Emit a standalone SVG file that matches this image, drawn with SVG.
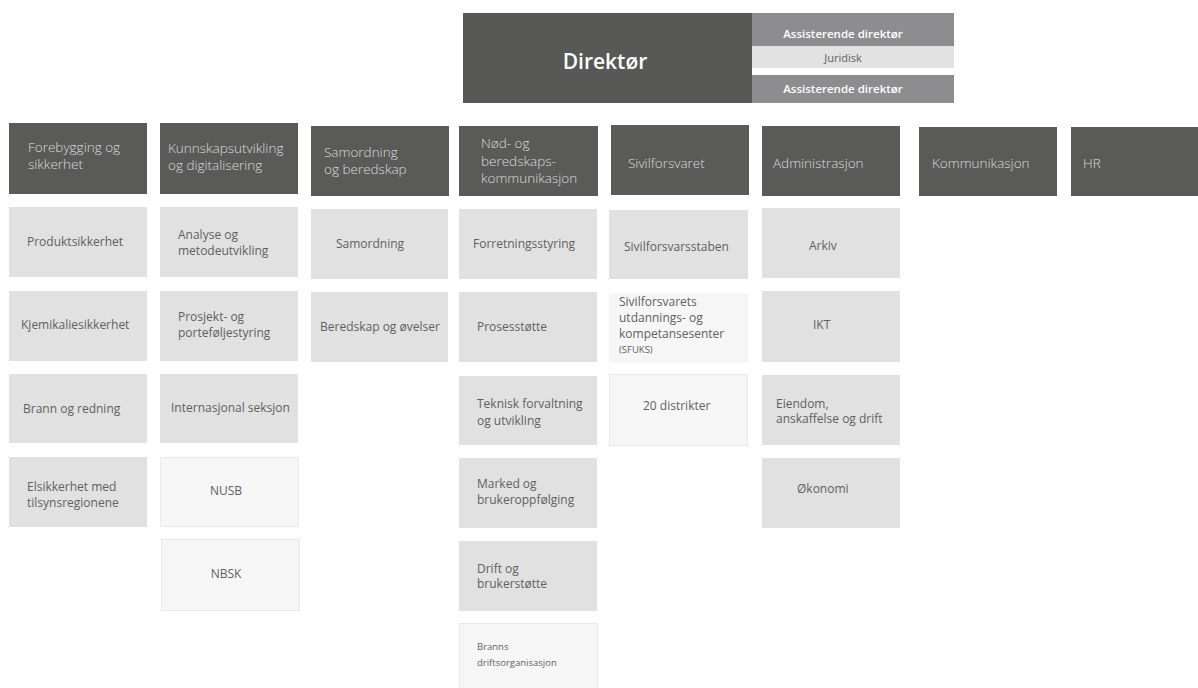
<svg xmlns="http://www.w3.org/2000/svg" width="1198" height="688" viewBox="0 0 1198 688">
<style>
text{font-family:"Open Sans","Liberation Sans",sans-serif}
.hd{fill:#5a5a58}
.ht{fill:#dcdcda;font-size:13.5px;font-weight:300}
.sb{fill:#e2e1e1}
.lb{fill:#f6f6f7;stroke:#e9e9ea;stroke-width:1}
.lbn{fill:#f6f6f7}
.st{fill:#5f5f5f;font-size:12px;font-weight:400}
.sm{fill:#5f5f5f;font-size:9.5px}
.ad{fill:#ffffff;font-size:11.5px;font-weight:600}
</style>
<rect width="1198" height="688" fill="#ffffff"/>
<g id="direktor">
<rect x="463" y="13" width="289" height="90" fill="#585856"/>
<text x="605" y="69" text-anchor="middle" fill="#ffffff" font-size="21" font-weight="600">Direktør</text>
</g>
<g id="assisterende1">
<rect x="752" y="13" width="202" height="33" fill="#8d8d8f"/>
<text class="ad" x="843" y="38" text-anchor="middle">Assisterende direktør</text>
</g>
<g id="juridisk">
<rect x="752" y="46" width="202" height="22" fill="#e3e2e2"/>
<text x="843" y="62" text-anchor="middle" fill="#5f5f5f" font-size="11">Juridisk</text>
</g>
<g id="assisterende2">
<rect x="752" y="75" width="202" height="28" fill="#8d8d8f"/>
<text class="ad" x="843" y="93" text-anchor="middle">Assisterende direktør</text>
</g>

<g id="h-forebygging"><rect class="hd" x="9" y="123" width="138" height="71"/><text class="ht" x="28" y="152">Forebygging og</text><text class="ht" x="28" y="169">sikkerhet</text></g>
<g id="h-kunnskap"><rect class="hd" x="160" y="123" width="138" height="71"/><text class="ht" x="168" y="153">Kunnskapsutvikling</text><text class="ht" x="168" y="170">og digitalisering</text></g>
<g id="h-samordning"><rect class="hd" x="311" y="126" width="138" height="70"/><text class="ht" x="324" y="157">Samordning</text><text class="ht" x="324" y="174">og beredskap</text></g>
<g id="h-nod"><rect class="hd" x="459" y="126" width="139" height="70"/><text class="ht" x="481" y="148">Nød- og</text><text class="ht" x="481" y="166">beredskaps-</text><text class="ht" x="481" y="183">kommunikasjon</text></g>
<g id="h-sivilforsvaret"><rect class="hd" x="611" y="125" width="138" height="70"/><text class="ht" x="628" y="168">Sivilforsvaret</text></g>
<g id="h-administrasjon"><rect class="hd" x="762" y="126" width="138" height="70"/><text class="ht" x="773" y="168">Administrasjon</text></g>
<g id="h-kommunikasjon"><rect class="hd" x="919" y="127" width="138" height="69"/><text class="ht" x="932" y="168">Kommunikasjon</text></g>
<g id="h-hr"><rect class="hd" x="1071" y="127" width="127" height="69"/><text class="ht" x="1083" y="168">HR</text></g>

<g id="produktsikkerhet"><rect class="sb" x="9" y="207" width="138" height="70"/><text class="st" x="27" y="246">Produktsikkerhet</text></g>
<g id="kjemikaliesikkerhet"><rect class="sb" x="9" y="291" width="138" height="70"/><text class="st" x="21" y="329">Kjemikaliesikkerhet</text></g>
<g id="brann"><rect class="sb" x="9" y="374" width="138" height="69"/><text class="st" x="23" y="413">Brann og redning</text></g>
<g id="elsikkerhet"><rect class="sb" x="9" y="457" width="138" height="70"/><text class="st" x="27" y="491">Elsikkerhet med</text><text class="st" x="27" y="507">tilsynsregionene</text></g>

<g id="analyse"><rect class="sb" x="160" y="207" width="138" height="70"/><text class="st" x="178" y="239">Analyse og</text><text class="st" x="178" y="255">metodeutvikling</text></g>
<g id="prosjekt"><rect class="sb" x="160" y="291" width="138" height="70"/><text class="st" x="178" y="321">Prosjekt- og</text><text class="st" x="178" y="337">porteføljestyring</text></g>
<g id="internasjonal"><rect class="sb" x="160" y="374" width="138" height="69"/><text class="st" x="171" y="412">Internasjonal seksjon</text></g>
<g id="nusb"><rect class="lb" x="160.5" y="457.5" width="138" height="69"/><text class="st" x="226" y="495" text-anchor="middle">NUSB</text></g>
<g id="nbsk"><rect class="lb" x="161.5" y="539.5" width="138" height="71"/><text class="st" x="226" y="578" text-anchor="middle">NBSK</text></g>

<g id="samordning"><rect class="sb" x="311" y="209" width="137" height="70"/><text class="st" x="336" y="248">Samordning</text></g>
<g id="beredskap"><rect class="sb" x="311" y="292" width="137" height="70"/><text class="st" x="320" y="331">Beredskap og øvelser</text></g>

<g id="forretningsstyring"><rect class="sb" x="459" y="209" width="138" height="70"/><text class="st" x="473" y="248">Forretningsstyring</text></g>
<g id="prosesstotte"><rect class="sb" x="459" y="292" width="138" height="70"/><text class="st" x="477" y="331">Prosesstøtte</text></g>
<g id="teknisk"><rect class="sb" x="459" y="376" width="138" height="69"/><text class="st" x="477" y="408">Teknisk forvaltning</text><text class="st" x="477" y="425">og utvikling</text></g>
<g id="marked"><rect class="sb" x="459" y="458" width="138" height="70"/><text class="st" x="477" y="488">Marked og</text><text class="st" x="477" y="504">brukeroppfølging</text></g>
<g id="drift"><rect class="sb" x="459" y="541" width="138" height="70"/><text class="st" x="477" y="573" font-size="13">Drift og</text><text class="st" x="477" y="588" font-size="13">brukerstøtte</text></g>
<g id="branns"><rect class="lb" x="459.5" y="623.5" width="138" height="70"/><text class="sm" x="477" y="650">Branns</text><text class="sm" x="477" y="666">driftsorganisasjon</text></g>

<g id="sivilforsvarsstaben"><rect class="sb" x="609" y="210" width="139" height="69"/><text class="st" x="624" y="251">Sivilforsvarsstaben</text></g>
<g id="sfuks"><rect class="lbn" x="609" y="293" width="139" height="70"/><text class="st" x="619" y="306">Sivilforsvarets</text><text class="st" x="619" y="322">utdannings- og</text><text class="st" x="619" y="338">kompetansesenter</text><text class="sm" x="619" y="353" font-size="8">(SFUKS)</text></g>
<g id="distrikter"><rect class="lb" x="609.5" y="374.5" width="138" height="71"/><text class="st" x="643" y="410">20 distrikter</text></g>

<g id="arkiv"><rect class="sb" x="762" y="208" width="138" height="70"/><text class="st" x="809" y="250">Arkiv</text></g>
<g id="ikt"><rect class="sb" x="762" y="291" width="138" height="71"/><text class="st" x="813" y="329">IKT</text></g>
<g id="eiendom"><rect class="sb" x="762" y="375" width="138" height="70"/><text class="st" x="776" y="408">Eiendom,</text><text class="st" x="776" y="423">anskaffelse og drift</text></g>
<g id="okonomi"><rect class="sb" x="762" y="458" width="138" height="70"/><text class="st" x="797" y="493">Økonomi</text></g>
</svg>
